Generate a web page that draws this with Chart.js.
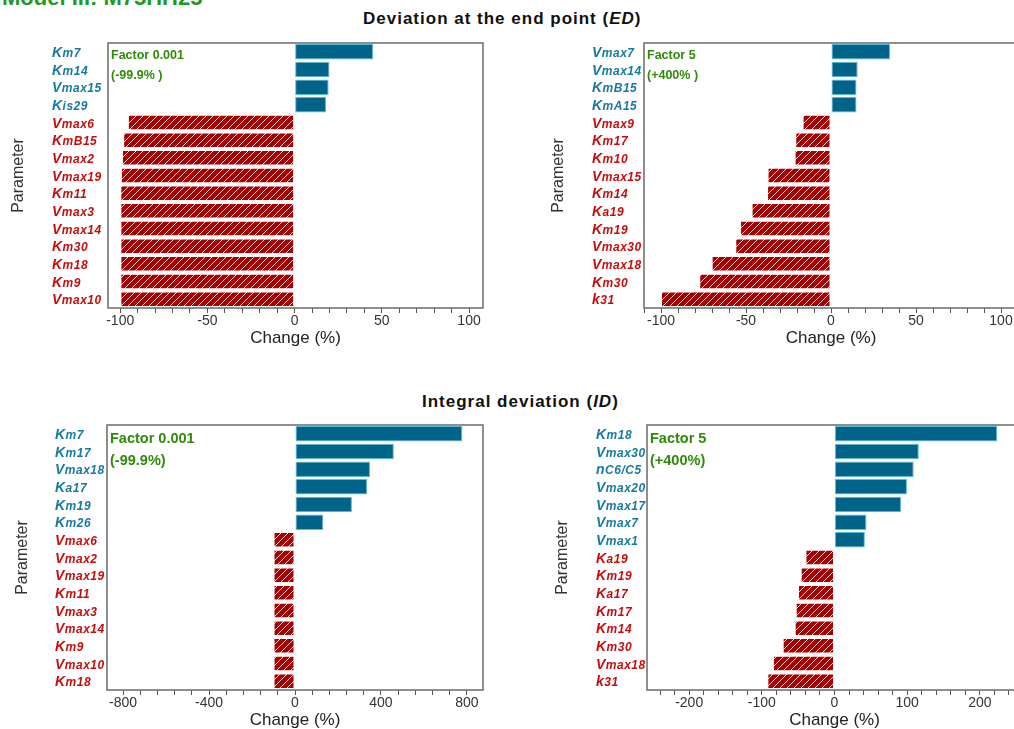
<!DOCTYPE html>
<html>
<head>
<meta charset="utf-8">
<script src="https://cdn.jsdelivr.net/npm/chart.js@4.4.1/dist/chart.umd.min.js"></script>
<style>
  html, body { margin: 0; padding: 0; background: #fff; overflow: hidden; width: 1014px; height: 729px; }
  canvas { position: absolute; }
  .heading { position: absolute; font-family: Arial, "Liberation Sans", sans-serif; font-weight: bold; white-space: nowrap; }
</style>
</head>
<body>
<div class="heading" style="left:2px;top:-15px;font-size:22px;color:#1f9a1f">Model III: M75HH25</div>
<div class="heading" style="left:363px;top:9px;font-size:17px;letter-spacing:1px;color:#111">Deviation at the end point (<i>ED</i>)</div>
<div class="heading" style="left:422px;top:392px;font-size:17px;letter-spacing:1px;color:#111">Integral deviation (<i>ID</i>)</div>

<canvas id="edLow" width="500" height="315" style="left:0;top:35px"></canvas>
<canvas id="edHigh" width="520" height="315" style="left:507px;top:35px"></canvas>
<canvas id="idLow" width="500" height="320" style="left:0;top:415px"></canvas>
<canvas id="idHigh" width="520" height="320" style="left:507px;top:415px"></canvas>

<script>
// end point deviation, factor 0.001
const edLowLabels = ["Km7", "Km14", "Vmax15", "Kis29", "Vmax6", "KmB15", "Vmax2", "Vmax19", "Km11", "Vmax3", "Vmax14", "Km30", "Km18", "Km9", "Vmax10"];
const edLowValues = [45, 20, 19.5, 18, -95.6, -98.3, -99, -99.6, -99.9, -99.9, -99.9, -99.9, -99.9, -99.9, -99.9];

// end point deviation, factor 5
const edHighLabels = ["Vmax7", "Vmax14", "KmB15", "KmA15", "Vmax9", "Km17", "Km10", "Vmax15", "Km14", "Ka19", "Km19", "Vmax30", "Vmax18", "Km30", "k31"];
const edHighValues = [34.7, 15.7, 15, 15, -16.7, -21, -21.4, -37.3, -37.6, -46.7, -53.5, -56.3, -70.2, -77.5, -100];

// integral deviation, factor 0.001
const idLowLabels = ["Km7", "Km17", "Vmax18", "Ka17", "Km19", "Km26", "Vmax6", "Vmax2", "Vmax19", "Km11", "Vmax3", "Vmax14", "Km9", "Vmax10", "Km18"];
const idLowValues = [779, 460, 349, 336, 265, 132, -99.9, -99.9, -99.9, -99.9, -99.9, -99.9, -99.9, -99.9, -99.9];

// integral deviation, factor 5
const idHighLabels = ["Km18", "Vmax30", "nC6/C5", "Vmax20", "Vmax17", "Vmax7", "Vmax1", "Ka19", "Km19", "Ka17", "Km17", "Km14", "Km30", "Vmax18", "k31"];
const idHighValues = [224, 116, 109, 99.7, 91.5, 44, 41.8, -40, -46.5, -50.2, -53.4, -54.8, -71.3, -84.7, -92.4];

const lowNote = ["Factor 0.001", "(-99.9% )"];
const highNote = ["Factor 5", "(+400% )"];
const lowNoteId = ["Factor 0.001", "(-99.9%)"];
const highNoteId = ["Factor 5", "(+400%)"];

const BLUE = "#00648a";
const BLUE_EDGE = "#5cbcd8";
const RED = "#a80000";
const LABEL_BLUE = "#157aa0";
const LABEL_RED = "#c80c0c";
const FONT = "Arial, 'Liberation Sans', sans-serif";

function hatch() {
  const c = document.createElement("canvas");
  c.width = 7; c.height = 7;
  const g = c.getContext("2d");
  g.fillStyle = RED;
  g.fillRect(0, 0, 7, 7);
  g.strokeStyle = "rgba(255,255,255,0.85)";
  g.lineWidth = 1;
  g.beginPath();
  g.moveTo(-1, 8); g.lineTo(8, -1);
  g.moveTo(-1, 1); g.lineTo(1, -1);
  g.moveTo(6, 8); g.lineTo(8, 6);
  g.stroke();
  return g.createPattern(c, "repeat");
}
const redFill = hatch();

// frame around plot area, parameter names with small trailing part, factor note
const panelDecor = {
  id: "panelDecor",
  afterDraw(chart, args, opts) {
    const { ctx, chartArea: a } = chart;
    const y = chart.scales.y;
    ctx.save();
    ctx.strokeStyle = "#6a6a6a";
    ctx.lineWidth = 1.5;
    ctx.strokeRect(a.left, a.top, a.right - a.left, a.bottom - a.top);

    ctx.textBaseline = "alphabetic";
    ctx.letterSpacing = "0.5px";
    const values = chart.data.datasets[0].data;
    chart.data.labels.forEach((name, i) => {
      const py = y.getPixelForTick(i) + 5;
      ctx.fillStyle = values[i] >= 0 ? LABEL_BLUE : LABEL_RED;
      let x = opts.labelX;
      ctx.font = "italic bold 14px " + FONT;
      ctx.fillText(name[0], x, py);
      x += ctx.measureText(name[0]).width;
      ctx.font = "italic bold 12px " + FONT;
      ctx.fillText(name.slice(1), x, py);
    });

    ctx.letterSpacing = "0px";
    ctx.fillStyle = "#2f8a08";
    ctx.font = "bold " + opts.noteSize + "px " + FONT;
    ctx.textBaseline = "middle";
    opts.note.forEach((t, k) => {
      ctx.fillText(t, a.left + 3, a.top + opts.noteTop + k * opts.noteGap);
    });
    ctx.restore();
  }
};

function makeChart(id, labels, values, p) {
  return new Chart(document.getElementById(id), {
    type: "bar",
    data: {
      labels: labels,
      datasets: [{
        data: values,
        backgroundColor: (c) => (c.raw >= 0 ? BLUE : redFill),
        borderColor: (c) => (c.raw >= 0 ? BLUE_EDGE : "#ffffff"),
        borderWidth: 1,
        borderSkipped: false,
        barPercentage: 0.88,
        categoryPercentage: 1,
      }],
    },
    options: {
      indexAxis: "y",
      responsive: false,
      animation: false,
      layout: { padding: { top: p.padTop, right: p.padRight, left: 0, bottom: 0 } },
      plugins: {
        legend: { display: false },
        tooltip: { enabled: false },
        panelDecor: { labelX: p.labelX, note: p.note, noteSize: p.noteSize, noteTop: p.noteTop, noteGap: p.noteGap },
      },
      scales: {
        x: {
          min: p.min,
          max: p.max,
          afterFit: (s) => { s.height = p.xHeight; },
          afterBuildTicks: (s) => {
            const ticks = [];
            for (let v = Math.ceil(p.min / p.step) * p.step; v <= p.max; v += p.step) ticks.push({ value: v });
            s.ticks = ticks;
          },
          border: { display: false },
          grid: {
            drawOnChartArea: false,
            drawTicks: true,
            tickLength: 5,
            tickColor: "#555",
          },
          ticks: {
            autoSkip: false,
            maxRotation: 0,
            padding: 0,
            color: "#333",
            font: { family: FONT, size: 14 },
            callback: (v) => (Math.abs(v % p.major) < 1e-6 ? v : ""),
          },
          title: {
            display: true,
            text: "Change (%)",
            color: "#222",
            font: { family: FONT, size: 17 },
            padding: { top: 0, bottom: p.titleBottom },
          },
        },
        y: {
          afterFit: (s) => { s.width = p.yWidth; },
          border: { display: false },
          grid: { display: false },
          ticks: { display: false },
          title: {
            display: true,
            text: "Parameter",
            color: "#333",
            font: { family: FONT, size: 16 },
            padding: { top: p.paramPad, bottom: 0 },
          },
        },
      },
    },
    plugins: [panelDecor],
  });
}

makeChart("edLow", edLowLabels, edLowValues, {
  min: -107, max: 108, step: 10, major: 50, padTop: 8, padRight: 17, yWidth: 108, xHeight: 42,
  titleBottom: 1, paramPad: 9, labelX: 52, note: lowNote, noteSize: 12.5, noteTop: 13, noteGap: 20,
});
makeChart("edHigh", edHighLabels, edHighValues, {
  min: -110, max: 110, step: 10, major: 50, padTop: 8, padRight: 9, yWidth: 137, xHeight: 42,
  titleBottom: 1, paramPad: 42, labelX: 85, note: highNote, noteSize: 12.5, noteTop: 13, noteGap: 20,
});
makeChart("idLow", idLowLabels, idLowValues, {
  min: -875, max: 875, step: 80, major: 400, padTop: 10, padRight: 17, yWidth: 107, xHeight: 45,
  titleBottom: 4, paramPad: 13, labelX: 55, note: lowNoteId, noteSize: 14.5, noteTop: 14, noteGap: 22,
});
makeChart("idHigh", idHighLabels, idHighValues, {
  min: -258, max: 258, step: 20, major: 100, padTop: 10, padRight: 5, yWidth: 140, xHeight: 45,
  titleBottom: 4, paramPad: 46, labelX: 89, note: highNoteId, noteSize: 14.5, noteTop: 14, noteGap: 22,
});
</script>
</body>
</html>
